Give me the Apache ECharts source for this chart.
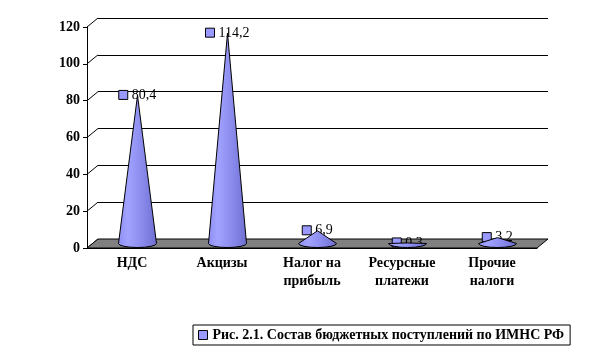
<!DOCTYPE html>
<html>
<head>
<meta charset="utf-8">
<script src="https://cdn.jsdelivr.net/npm/echarts@6/dist/echarts.min.js"></script>
<style>
html,body{margin:0;padding:0;background:#fff;}
#c{width:605px;height:356px;}
</style>
</head>
<body>
<div id="c"></div>
<script>
const categories = ['НДС', 'Акцизы', 'Налог на\nприбыль', 'Ресурсные\nплатежи', 'Прочие\nналоги'];
const values = [80.4, 114.2, 6.9, 0.3, 3.2];
const valueLabels = ['80,4', '114,2', '6,9', '0,3', '3,2'];
const yTicks = [0, 20, 40, 60, 80, 100, 120];
const legendName = 'Рис. 2.1. Состав бюджетных поступлений по ИМНС РФ';

const DX = 11, DY = -9;
const FONT = '"Liberation Serif", "Times New Roman", serif';

const chart = echarts.init(document.getElementById('c'));

const option = {
  backgroundColor: '#fff',
  animation: false,
  legend: {
    left: 193, top: 325,
    padding: [3, 6, 3, 5],
    borderColor: '#000', borderWidth: 1,
    itemWidth: 9, itemHeight: 9, itemGap: 6,
    textStyle: { fontFamily: FONT, fontSize: 14, fontWeight: 'bold', color: '#000' },
    data: [{ name: legendName, icon: 'rect', itemStyle: { color: '#9999FF', borderColor: '#000', borderWidth: 1 } }]
  },
  grid: [
    { left: 87, top: 27, width: 450, height: 221 },
    { left: 98, top: 18, width: 450, height: 221 }
  ],
  xAxis: [
    {
      gridIndex: 0, type: 'category', data: categories,
      axisLine: { lineStyle: { color: '#000', width: 1 } },
      axisTick: { length: 5, lineStyle: { color: '#000' } },
      axisLabel: { margin: 6, color: '#000', fontFamily: FONT, fontSize: 14, fontWeight: 'bold', lineHeight: 18, interval: 0 }
    },
    { gridIndex: 1, type: 'category', data: categories, show: false }
  ],
  yAxis: [
    {
      gridIndex: 0, type: 'value', min: 0, max: 120, interval: 20,
      axisLine: { show: true, lineStyle: { color: '#000', width: 1 } },
      axisTick: { show: true, length: 4, lineStyle: { color: '#000' } },
      splitLine: { show: false },
      axisLabel: { margin: 7, color: '#000', fontFamily: FONT, fontSize: 14, fontWeight: 'bold' }
    },
    {
      gridIndex: 1, type: 'value', min: 0, max: 120, interval: 20,
      axisLine: { show: false }, axisTick: { show: false }, axisLabel: { show: false },
      splitLine: { show: true, lineStyle: { color: '#000', width: 1 } }
    }
  ],
  series: [
    {
      type: 'custom', name: 'walls', xAxisIndex: 0, yAxisIndex: 0, silent: true, clip: false, z: 3,
      data: yTicks.map(v => [0, v]),
      renderItem: function (params, api) {
        const p = api.coord([0, api.value(1)]);
        const bw = api.size([1, 0])[0];
        const x0 = p[0] - bw / 2;
        return { type: 'line', shape: { x1: x0, y1: p[1], x2: x0 + DX, y2: p[1] + DY }, style: { stroke: '#000', lineWidth: 1 } };
      }
    },
    {
      type: 'custom', name: 'floor', xAxisIndex: 0, yAxisIndex: 0, silent: true, clip: false, z: 4,
      data: [[0, 0]],
      renderItem: function (params, api) {
        const a = api.coord([0, 0]);
        const b = api.coord([categories.length - 1, 0]);
        const bw = api.size([1, 0])[0];
        const xl = a[0] - bw / 2, xr = b[0] + bw / 2, y = a[1];
        return {
          type: 'polygon',
          shape: { points: [[xl, y], [xr, y], [xr + DX, y + DY], [xl + DX, y + DY]] },
          style: { fill: '#808080', stroke: '#000', lineWidth: 1 }
        };
      }
    },
    {
      type: 'custom', name: legendName, xAxisIndex: 0, yAxisIndex: 0, clip: false, z: 5,
      itemStyle: { color: '#9999FF' },
      data: values.map((v, i) => [i, v]),
      renderItem: function (params, api) {
        const i = params.dataIndex;
        const base = api.coord([api.value(0), 0]);
        const tip = api.coord([api.value(0), api.value(1)]);
        const cx = base[0] + DX / 2;
        const by = base[1] + DY / 2;
        const ty = tip[1] + DY / 2;
        const rx = 19, ry = 4;
        const path = 'M' + (cx - rx) + ',' + by + ' L' + cx + ',' + ty + ' L' + (cx + rx) + ',' + by +
          ' A' + rx + ',' + ry + ' 0 0 1 ' + (cx - rx) + ',' + by + ' Z';
        const txt = valueLabels[i];
        const tw = echarts.format.getTextRect ? 0 : 0;
        const fontStr = '14px ' + FONT;
        const w = (function () {
          const c = document.createElement('canvas').getContext('2d');
          c.font = fontStr; return c.measureText(txt).width;
        })();
        const total = 9 + 4 + w;
        const lx = cx - total / 2;
        return {
          type: 'group',
          children: [
            {
              type: 'rect', z2: 1,
              shape: { x: lx, y: ty - 5, width: 9, height: 9 },
              style: { fill: '#9999FF', stroke: '#000', lineWidth: 1 }
            },
            {
              type: 'text', z2: 1,
              style: { x: lx + 13, y: ty, text: txt, font: fontStr, fill: '#000', verticalAlign: 'middle', align: 'left' }
            },
            {
              type: 'path', z2: 2,
              shape: { pathData: path },
              style: {
                fill: { type: 'linear', x: 0, y: 0, x2: 1, y2: 0, colorStops: [
                  { offset: 0, color: '#8e8ef4' },
                  { offset: 0.25, color: '#a2a2ff' },
                  { offset: 0.6, color: '#8c8cee' },
                  { offset: 1, color: '#6e6ed0' }
                ] },
                stroke: '#000', lineWidth: 1
              }
            }
          ]
        };
      }
    }
  ]
};
chart.setOption(option);
</script>
</body>
</html>
